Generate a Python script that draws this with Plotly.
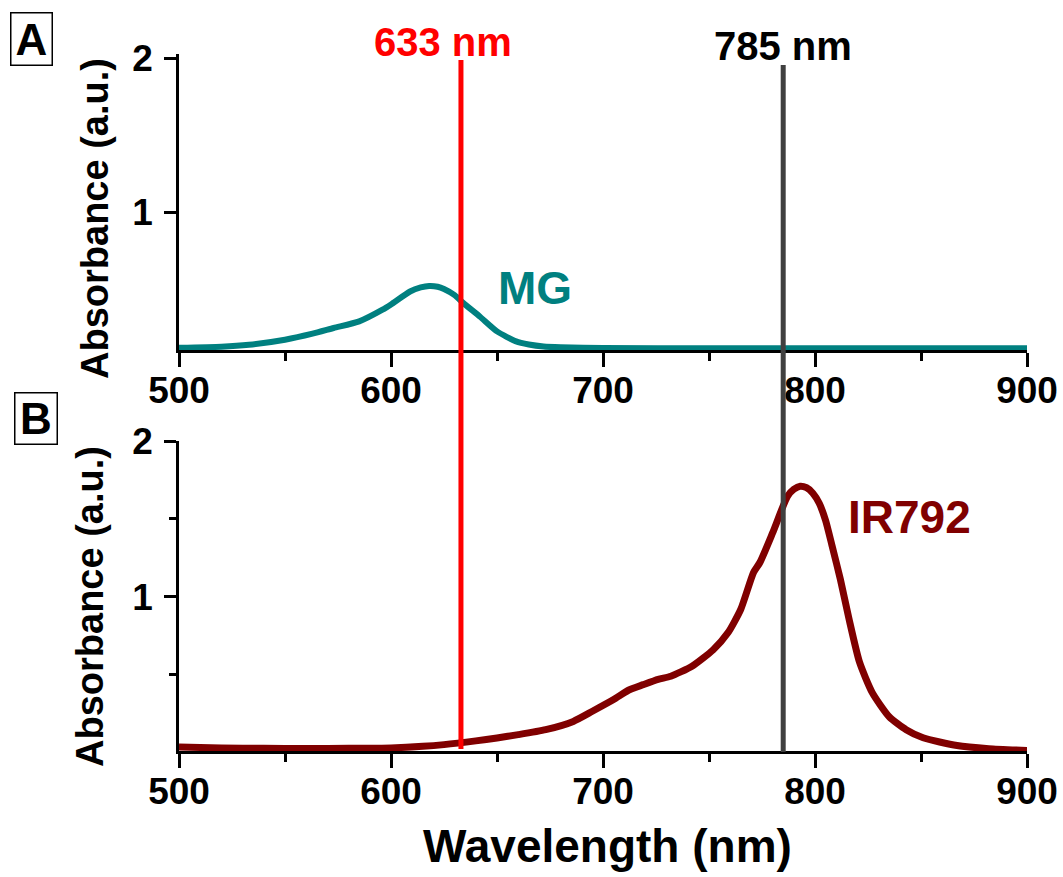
import plotly.graph_objects as go

# ---- data ----
# Absorbance spectrum of malachite green (MG)
mg_nm = [500, 520, 533, 550, 563, 573, 585, 596, 600, 609, 614, 618, 622, 625,
         630, 634, 642, 650, 659, 665, 672, 680, 700, 750, 800, 850, 900]
mg_abs = [0.118, 0.125, 0.138, 0.171, 0.21, 0.247, 0.29, 0.366, 0.40, 0.484, 0.51,
          0.52, 0.515, 0.50, 0.46, 0.41, 0.32, 0.225, 0.16, 0.14, 0.127, 0.122,
          0.117, 0.115, 0.115, 0.115, 0.115]

# Absorbance spectrum of IR792
ir_nm = [500, 520, 540, 560, 580, 600, 615, 625, 640, 650, 660, 673, 686, 695, 705,
         712, 719, 726, 732, 742, 752, 759, 765, 771, 774, 780, 787, 790, 793, 796,
         799, 802, 805, 808, 812, 816, 821, 827, 835, 843, 851, 867, 882, 900]
ir_abs = [0.035, 0.03, 0.027, 0.026, 0.027, 0.03, 0.04, 0.051, 0.075, 0.094, 0.115,
          0.147, 0.20, 0.265, 0.34, 0.40, 0.436, 0.47, 0.49, 0.554, 0.66, 0.77, 0.92,
          1.156, 1.22, 1.41, 1.645, 1.69, 1.71, 1.70, 1.665, 1.60, 1.49, 1.33, 1.11,
          0.86, 0.58, 0.385, 0.23, 0.147, 0.095, 0.045, 0.025, 0.014]

# Excitation laser lines
laser_nm = [633, 785]
laser_labels = ["633 nm", "785 nm"]
laser_colors = ["#ff0000", "#404040"]

x_ticks = [500, 600, 700, 800, 900]
y_ticks = [1, 2]

# ---- layout helpers (pixel -> paper) ----
W, H = 1063, 877


def px(x):
    return x / W


def py(y):
    return 1 - y / H


FONT = "Liberation Sans, Arial, sans-serif"
MG_COLOR = "#008080"
IR_COLOR = "#800000"

fig = go.Figure()
fig.add_trace(go.Scatter(x=mg_nm, y=mg_abs, mode="lines", xaxis="x", yaxis="y",
                         line=dict(color=MG_COLOR, width=6, shape="spline", smoothing=0.6),
                         showlegend=False, hoverinfo="skip"))
fig.add_trace(go.Scatter(x=ir_nm, y=ir_abs, mode="lines", xaxis="x2", yaxis="y2",
                         line=dict(color=IR_COLOR, width=7, shape="spline", smoothing=0.6),
                         showlegend=False, hoverinfo="skip"))

tickfont = dict(family=FONT, size=37, color="black", weight="bold")

xcommon = dict(range=[500, 900], tickvals=x_ticks, ticks="outside", ticklen=14,
               tickwidth=2.5, tickcolor="black", showline=True, linecolor="black",
               linewidth=2.5, showgrid=False, zeroline=False, tickfont=tickfont,
               automargin=False, ticklabelstandoff=-8,
               minor=dict(dtick=50, tick0=500, ticks="outside", ticklen=8,
                          tickwidth=2.5, tickcolor="black", showgrid=False),
               domain=[px(179), px(1027)])

ycommon = dict(tickvals=y_ticks, ticks="outside", ticklen=12, tickwidth=2.5,
               tickcolor="black", showline=True, linecolor="black", linewidth=2.5,
               showgrid=False, zeroline=False, tickfont=tickfont, ticklabelstandoff=4,
               automargin=False)

fig.update_layout(
    width=W, height=H, autosize=False,
    margin=dict(l=0, r=0, t=0, b=0, pad=0, autoexpand=False),
    paper_bgcolor="white", plot_bgcolor="white",
    xaxis=dict(anchor="y", **xcommon),
    yaxis=dict(anchor="x", range=[0.104, 2.026], domain=[py(350), py(54)], **ycommon),
    xaxis2=dict(anchor="y2", **xcommon),
    yaxis2=dict(anchor="x2", range=[0.01, 2.0], domain=[py(751), py(441)],
                minor=dict(dtick=0.5, tick0=0, ticks="outside", ticklen=7,
                           tickwidth=2.5, tickcolor="black", showgrid=False),
                **ycommon),
)

# laser lines spanning both panels
line_ends = [(60, 749), (65, 752)]
for nm, col, (top, bot) in zip(laser_nm, laser_colors, line_ends):
    fig.add_shape(type="line", xref="x", yref="paper", x0=nm, x1=nm,
                  y0=py(bot), y1=py(top), line=dict(color=col, width=5), layer="above")


def label(text, x, y, size, color, angle=0, **kw):
    fig.add_annotation(text=text, x=px(x), y=py(y), xref="paper", yref="paper",
                       xanchor="center", yanchor="middle", showarrow=False,
                       textangle=angle,
                       font=dict(family=FONT, size=size, color=color, weight="bold"), **kw)


label(laser_labels[0], 443, 42, 40, laser_colors[0])
label(laser_labels[1], 783, 46, 40, "black")
label("MG", 535, 288, 46, MG_COLOR)
label("IR792", 909, 517, 46, IR_COLOR)
label("Absorbance (a.u.)", 95, 219, 38, "black", angle=-90)
label("Absorbance (a.u.)", 90, 607, 38, "black", angle=-90)
label("Wavelength (nm)", 607, 846, 46, "black")
label("A", 31.5, 39.2, 44, "black", width=40, height=51, bordercolor="black",
      borderwidth=1.5, borderpad=0)
label("B", 35.5, 418, 44, "black", width=41, height=50, bordercolor="black",
      borderwidth=1.5, borderpad=0)

fig.write_html("out.html")
